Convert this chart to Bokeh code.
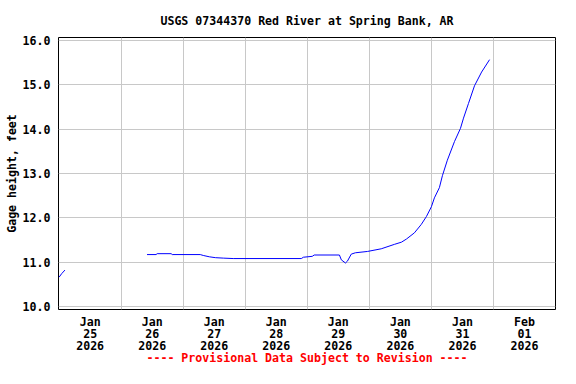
import math
import pandas as pd
from bokeh.plotting import figure
from bokeh.models import FixedTicker, Range1d, NumeralTickFormatter
from bokeh.embed import file_html
from bokeh.resources import INLINE

TITLE = "USGS 07344370 Red River at Spring Bank, AR"
Y_LABEL = "Gage height, feet"
FOOTER = "---- Provisional Data Subject to Revision ----"

# observation times (local) and gage height, feet; None marks a data gap
times = [
    "2026-01-25 00:00", "2026-01-25 01:00", "2026-01-25 02:15",
    "2026-01-25 12:00",
    "2026-01-26 10:00", "2026-01-26 13:30", "2026-01-26 13:55", "2026-01-26 19:20",
    "2026-01-26 19:45", "2026-01-27 06:35", "2026-01-27 07:45", "2026-01-27 10:05",
    "2026-01-27 12:25", "2026-01-27 15:30", "2026-01-27 19:20", "2026-01-28 21:40",
    "2026-01-28 22:30", "2026-01-29 01:55", "2026-01-29 02:40", "2026-01-29 12:25",
    "2026-01-29 13:10", "2026-01-29 14:45", "2026-01-29 15:30", "2026-01-29 17:00",
    "2026-01-29 18:35", "2026-01-29 23:15", "2026-01-30 04:35", "2026-01-30 09:40",
    "2026-01-30 12:25", "2026-01-30 14:20", "2026-01-30 17:25", "2026-01-30 20:05",
    "2026-01-30 22:05", "2026-01-31 00:00", "2026-01-31 01:10", "2026-01-31 03:05",
    "2026-01-31 04:15", "2026-01-31 06:10", "2026-01-31 08:55", "2026-01-31 11:15",
    "2026-01-31 12:25", "2026-01-31 14:20", "2026-01-31 16:40", "2026-01-31 19:25",
    "2026-01-31 22:30",
]
gage_ft = [
    10.66, 10.74, 10.82,
    None,
    11.17, 11.17, 11.19, 11.19,
    11.17, 11.17, 11.15, 11.12,
    11.10, 11.09, 11.08, 11.08,
    11.11, 11.13, 11.16, 11.16,
    11.05, 10.98, 11.02, 11.18,
    11.21, 11.24, 11.30, 11.40,
    11.45, 11.52, 11.66, 11.85,
    12.03, 12.25, 12.45, 12.68,
    12.95, 13.30, 13.72, 14.02,
    14.25, 14.58, 14.98, 15.29,
    15.57,
]

day_labels = ["Jan\n25\n2026", "Jan\n26\n2026", "Jan\n27\n2026", "Jan\n28\n2026",
              "Jan\n29\n2026", "Jan\n30\n2026", "Jan\n31\n2026", "Feb\n01\n2026"]
y_ticks = [10, 11, 12, 13, 14, 15, 16]

start = pd.Timestamp("2026-01-25 00:00")
xs = [(pd.Timestamp(t) - start) / pd.Timedelta(days=1) for t in times]
ys = [float("nan") if v is None else v for v in gage_ft]

FONT = "DejaVu Sans Mono"
FS = "11.6px"

p = figure(width=560, height=368, output_backend="svg", toolbar_location=None,
           x_range=Range1d(-0.01, 8.0), y_range=Range1d(9.93, 16.07),
           min_border_left=58, min_border_right=5, min_border_top=37,
           min_border_bottom=52)

p.line(xs, ys, line_color="#0000ff", line_width=1)

p.title.text = TITLE
p.title.align = "center"
p.title.text_font = FONT
p.title.text_font_size = FS
p.title.text_font_style = "bold"
p.title.text_color = "black"
p.title.standoff = 19

p.outline_line_color = "black"
p.outline_line_width = 1
p.outline_line_alpha = 1.0

# x axis: labels at noon, grid at midnight; footer as the axis label
xticks = [i + 0.5 for i in range(len(day_labels))]
p.xaxis.ticker = FixedTicker(ticks=xticks)
p.xaxis.major_label_overrides = {t: lab for t, lab in zip(xticks, day_labels)}
p.xgrid.ticker = FixedTicker(ticks=list(range(1, 8)))
p.xaxis.major_label_standoff = 5
p.xaxis.major_label_text_line_height = 0.88
p.xaxis.axis_label = FOOTER
p.xaxis.axis_label_text_font = FONT
p.xaxis.axis_label_text_font_size = FS
p.xaxis.axis_label_text_font_style = "bold"
p.xaxis.axis_label_text_color = "#ff0000"
p.xaxis.axis_label_standoff = -5

p.yaxis.ticker = FixedTicker(ticks=y_ticks)
p.yaxis.formatter = NumeralTickFormatter(format="0.0")
p.yaxis.major_label_standoff = 8
p.yaxis.axis_label = Y_LABEL
p.yaxis.axis_label_text_font = FONT
p.yaxis.axis_label_text_font_size = FS
p.yaxis.axis_label_text_font_style = "bold"
p.yaxis.axis_label_text_color = "black"
p.yaxis.axis_label_standoff = 1

for ax in (p.xaxis, p.yaxis):
    ax.major_label_text_font = FONT
    ax.major_label_text_font_size = FS
    ax.major_label_text_font_style = "bold"
    ax.major_label_text_color = "black"
    ax.major_tick_line_color = None
    ax.minor_tick_line_color = None
    ax.major_tick_out = 0
    ax.minor_tick_out = 0
    ax.major_tick_in = 0
    ax.minor_tick_in = 0
    ax.axis_line_color = None

for g in (p.xgrid, p.ygrid):
    g.grid_line_color = "#c8c8c8"
    g.grid_line_width = 1
    g.grid_line_alpha = 1.0

p.ygrid.ticker = FixedTicker(ticks=y_ticks)

open("out.html", "w").write(file_html(p, INLINE))
